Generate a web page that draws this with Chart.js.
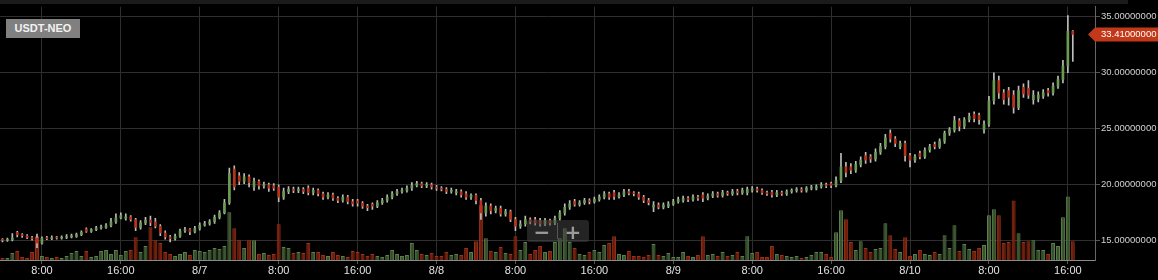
<!DOCTYPE html>
<html>
<head>
<meta charset="utf-8">
<script src="https://cdn.jsdelivr.net/npm/chart.js@4.4.1/dist/chart.umd.min.js"></script>
<style>
html, body { margin: 0; padding: 0; background: #000; overflow: hidden; }
#wrap { position: relative; width: 1158px; height: 280px; }
#chart { position: absolute; left: 0; top: 0; }
#pair { position: absolute; left: 6px; top: 19px; width: 74px; height: 19px; background: #808080;
        color: #f2f2f2; font: bold 11px "Liberation Sans", Arial, sans-serif; line-height: 19px; text-align: center; }
#zoombox { position: absolute; left: 527px; top: 220px; width: 62px; height: 22px;
           background: rgba(72, 72, 72, 0.5); border-radius: 3px; }
#zoombox span { position: absolute; top: 0; width: 30px; height: 22px; line-height: 21px; text-align: center;
                color: #9a9a9a; font: bold 20px "DejaVu Sans", sans-serif; }
#zoombox .sep { position: absolute; left: 30px; top: 3px; width: 1px; height: 16px; background: rgba(120,120,120,0.6); }
</style>
</head>
<body>
<div id="wrap">
  <canvas id="chart" width="1158" height="280"></canvas>
  <div id="pair">USDT-NEO</div>
  <div id="zoombox"><span style="left:0">−</span><div class="sep"></div><span style="left:31px">+</span></div>
</div>
<script>
// 30 minute candles, 8/6 4:00 -> 8/10 16:30
const opens = [
  15.10, 15.05, 15.10, 15.75, 15.55, 15.45, 15.30, 15.25, 14.80, 15.25,
  15.20, 15.30, 15.25, 15.30, 15.35, 15.40, 15.55, 16.05, 15.85, 16.00,
  16.15, 16.20, 16.35, 16.70, 17.05, 17.00, 17.15, 16.90, 16.20, 16.60,
  16.85, 16.70, 16.30, 15.70, 15.35, 15.20, 15.40, 15.90, 16.00, 15.80,
  16.10, 16.40, 16.55, 16.70, 17.10, 17.50, 18.40, 21.40, 20.80, 20.30,
  20.70, 19.80, 20.30, 19.90, 20.00, 19.90, 19.80, 18.90, 19.40, 19.60,
  19.50, 19.60, 19.70, 19.30, 19.50, 19.20, 18.90, 19.10, 18.80, 18.60,
  18.90, 18.50, 18.55, 18.35, 18.10, 18.25, 18.10, 18.40, 18.60, 18.90,
  19.20, 19.40, 19.50, 19.70, 19.95, 20.10, 19.90, 20.00, 19.80, 19.70,
  19.60, 19.40, 19.30, 19.40, 19.20, 18.90, 19.05, 18.60, 17.50, 18.10,
  17.70, 17.90, 17.40, 17.60, 16.90, 16.30, 16.50, 16.90, 16.90, 16.80,
  16.50, 16.80, 16.60, 17.00, 17.50, 18.00, 18.50, 18.25, 18.40, 18.60,
  18.50, 18.70, 18.90, 19.20, 19.30, 18.95, 19.10, 19.40, 19.25, 19.20,
  18.90, 18.60, 18.00, 18.20, 18.00, 18.10, 18.30, 18.50, 18.60, 18.80,
  18.70, 18.90, 19.10, 18.80, 19.00, 19.20, 19.05, 19.30, 19.20, 19.45,
  19.30, 19.30, 19.50, 19.65, 19.50, 19.30, 19.35, 19.10, 19.30, 19.20,
  19.40, 19.50, 19.60, 19.50, 19.70, 19.70, 19.85, 20.00, 20.10, 19.95,
  20.40, 21.60, 21.60, 21.30, 21.80, 22.60, 22.50, 22.30, 22.90, 23.40,
  24.60, 24.10, 23.40, 23.70, 22.60, 22.20, 22.80, 22.50, 23.10, 23.60,
  23.40, 23.90, 24.60, 24.90, 25.70, 25.20, 25.80, 26.30, 26.20, 24.90,
  25.40, 27.50, 29.30, 28.20, 28.40, 28.00, 26.90, 28.70, 28.60, 27.60,
  27.70, 27.90, 28.40, 28.20, 28.80, 29.40, 30.60, 33.70
];
const highs = [
  15.20, 15.25, 15.65, 15.85, 15.65, 15.55, 15.40, 15.60, 15.35, 15.40,
  15.45, 15.40, 15.45, 15.55, 15.60, 15.70, 15.90, 16.15, 16.10, 16.30,
  16.40, 16.55, 17.00, 17.40, 17.50, 17.40, 17.25, 17.00, 16.80, 17.10,
  17.20, 17.00, 16.45, 15.90, 15.50, 15.60, 16.05, 16.20, 16.10, 16.30,
  16.60, 16.75, 16.90, 17.30, 17.70, 18.70, 21.50, 21.70, 21.10, 21.00,
  20.90, 20.60, 20.45, 20.25, 20.15, 20.10, 20.00, 19.70, 19.85, 19.80,
  19.80, 19.75, 19.90, 19.70, 19.65, 19.35, 19.30, 19.25, 18.95, 19.10,
  19.05, 18.70, 18.70, 18.50, 18.25, 18.40, 18.60, 18.80, 19.10, 19.40,
  19.60, 19.70, 19.90, 20.20, 20.30, 20.25, 20.20, 20.15, 19.95, 19.85,
  19.75, 19.70, 19.60, 19.55, 19.40, 19.20, 19.20, 18.80, 18.40, 18.30,
  18.10, 18.10, 17.80, 17.75, 17.10, 16.80, 17.20, 17.05, 17.10, 17.00,
  17.00, 16.95, 17.20, 17.70, 18.30, 18.60, 18.70, 18.60, 18.80, 18.75,
  18.90, 19.10, 19.40, 19.35, 19.50, 19.30, 19.60, 19.60, 19.40, 19.35,
  19.05, 18.80, 18.50, 18.40, 18.40, 18.50, 18.70, 18.90, 19.00, 18.95,
  19.10, 19.05, 19.30, 19.20, 19.40, 19.35, 19.50, 19.45, 19.60, 19.60,
  19.70, 19.80, 19.85, 19.80, 19.65, 19.45, 19.50, 19.50, 19.45, 19.55,
  19.65, 19.75, 19.75, 19.85, 19.95, 20.00, 20.20, 20.15, 20.25, 20.70,
  22.80, 22.00, 21.90, 22.10, 22.50, 22.90, 22.70, 23.20, 23.70, 24.50,
  24.90, 24.30, 23.90, 23.90, 22.80, 22.70, 23.00, 23.30, 23.60, 23.80,
  24.10, 24.80, 25.10, 26.10, 25.90, 26.00, 26.40, 26.50, 26.40, 25.70,
  27.90, 30.00, 29.70, 28.50, 28.70, 28.40, 28.80, 29.00, 29.30, 28.40,
  28.30, 28.50, 28.60, 29.10, 29.70, 31.10, 35.10, 33.75
];
const lows = [
  14.90, 14.95, 15.00, 15.35, 15.30, 15.20, 15.05, 14.40, 14.70, 15.10,
  15.10, 15.15, 15.15, 15.20, 15.25, 15.30, 15.45, 15.75, 15.75, 15.90,
  16.05, 16.10, 16.25, 16.55, 16.95, 16.85, 16.75, 15.90, 16.05, 16.45,
  16.35, 16.15, 15.45, 15.15, 14.90, 15.05, 15.30, 15.75, 15.55, 15.70,
  15.95, 16.30, 16.40, 16.55, 16.95, 17.40, 18.25, 19.55, 20.00, 20.10,
  19.80, 19.50, 19.60, 19.70, 19.40, 19.50, 18.50, 18.70, 19.20, 19.30,
  19.30, 19.20, 19.10, 19.10, 19.00, 18.70, 18.75, 18.60, 18.40, 18.45,
  18.30, 18.10, 18.10, 17.90, 17.70, 17.80, 17.95, 18.25, 18.45, 18.75,
  19.05, 19.25, 19.35, 19.50, 19.80, 19.75, 19.75, 19.60, 19.50, 19.45,
  19.20, 19.25, 19.10, 18.90, 18.70, 18.70, 18.30, 16.90, 17.20, 17.40,
  17.50, 17.20, 17.20, 16.70, 15.90, 16.10, 16.30, 16.50, 16.40, 16.30,
  16.35, 16.40, 16.45, 16.85, 17.30, 17.80, 18.10, 18.10, 18.25, 18.30,
  18.35, 18.55, 18.75, 18.70, 18.70, 18.80, 18.95, 19.10, 19.00, 18.70,
  18.40, 18.20, 17.60, 17.85, 17.85, 17.95, 18.15, 18.35, 18.45, 18.50,
  18.55, 18.60, 18.50, 18.65, 18.85, 18.90, 18.90, 19.05, 19.05, 19.10,
  19.15, 19.10, 19.35, 19.35, 19.15, 19.05, 18.90, 18.95, 19.05, 19.05,
  19.25, 19.35, 19.35, 19.35, 19.55, 19.55, 19.70, 19.75, 19.75, 19.80,
  20.20, 20.70, 21.00, 21.10, 21.60, 21.90, 22.00, 22.10, 22.70, 23.20,
  23.80, 23.40, 23.20, 22.10, 21.60, 22.00, 22.30, 22.35, 22.90, 23.20,
  23.25, 23.70, 24.40, 24.70, 24.80, 25.00, 25.60, 25.60, 25.40, 24.60,
  25.20, 27.20, 27.70, 27.20, 27.10, 26.40, 26.70, 27.80, 27.70, 27.20,
  27.40, 27.70, 27.90, 28.00, 28.60, 29.10, 30.00, 31.00
];
const closes = [
  15.05, 15.10, 15.25, 15.55, 15.45, 15.30, 15.20, 14.80, 15.25, 15.20,
  15.30, 15.25, 15.30, 15.35, 15.45, 15.55, 15.75, 15.85, 16.00, 16.15,
  16.20, 16.35, 16.70, 17.05, 17.25, 17.15, 16.90, 16.20, 16.60, 16.85,
  16.65, 16.30, 15.70, 15.35, 15.20, 15.40, 15.90, 16.00, 15.80, 16.10,
  16.40, 16.55, 16.70, 17.10, 17.50, 18.40, 21.00, 19.80, 20.30, 20.70,
  20.20, 20.30, 19.90, 20.00, 19.70, 19.70, 18.90, 19.40, 19.60, 19.50,
  19.60, 19.40, 19.30, 19.50, 19.20, 18.90, 19.10, 18.80, 18.60, 18.90,
  18.50, 18.30, 18.35, 18.10, 17.95, 18.10, 18.40, 18.60, 18.90, 19.20,
  19.40, 19.50, 19.70, 19.95, 20.10, 19.90, 20.00, 19.80, 19.70, 19.60,
  19.40, 19.50, 19.40, 19.10, 18.90, 19.05, 18.60, 17.50, 18.10, 17.70,
  17.90, 17.40, 17.60, 16.90, 16.30, 16.50, 16.90, 16.70, 16.60, 16.50,
  16.80, 16.60, 17.00, 17.50, 18.00, 18.30, 18.25, 18.40, 18.60, 18.50,
  18.70, 18.90, 19.20, 18.90, 18.95, 19.10, 19.40, 19.25, 19.20, 18.90,
  18.60, 18.40, 18.20, 18.00, 18.20, 18.30, 18.50, 18.70, 18.80, 18.70,
  18.90, 18.80, 18.80, 19.00, 19.20, 19.05, 19.30, 19.20, 19.40, 19.30,
  19.50, 19.60, 19.65, 19.50, 19.30, 19.20, 19.10, 19.30, 19.20, 19.40,
  19.50, 19.60, 19.50, 19.70, 19.80, 19.85, 20.00, 19.90, 19.95, 20.40,
  21.60, 21.10, 21.30, 21.80, 22.20, 22.20, 22.30, 22.90, 23.40, 24.20,
  24.10, 23.70, 23.70, 22.60, 22.20, 22.50, 22.50, 23.10, 23.40, 23.40,
  23.90, 24.60, 24.90, 25.70, 25.20, 25.80, 26.10, 25.90, 25.80, 25.40,
  27.50, 29.30, 28.20, 27.60, 27.80, 26.90, 28.40, 28.10, 28.00, 28.00,
  28.00, 28.20, 28.20, 28.80, 29.40, 30.60, 33.70, 33.41
];
const volumes = [
   2,  2,  7,  9,  3,  2,  8, 24,  4,  3,
   2,  3,  2,  4,  7,  9,  4,  9,  3,  4,
   9, 10,  6, 10,  5,  9, 10, 23,  8, 14,
  33, 20, 17,  8,  6,  4,  6,  8,  5, 10,
   9,  8, 10, 12, 11, 14, 48, 32, 20, 12,
  20, 20,  6,  7,  5,  6, 36, 13, 12,  7,
   8,  7, 17,  8,  8,  5,  4,  8,  5,  4,
   3,  9,  8,  6,  4,  6,  4,  3,  5, 10,
   6,  4,  5, 17, 10,  6,  5,  7,  4,  4,
   8,  5,  6,  5, 12,  8, 19, 55, 22,  9,
   8, 13,  7,  6, 24, 10, 18,  6, 10, 14,
   8,  9, 18, 22, 32, 18, 12,  6,  5,  8,
  10,  8, 15, 17, 24,  6,  5,  9,  4,  4,
   3,  5, 16,  5,  4,  7,  3,  3,  8,  4,
   3,  5, 24,  5,  6,  4,  8,  4,  5,  8,
   4, 24,  7,  8,  3,  3, 14,  6,  5,  4,
   3,  4,  2,  3,  5,  8,  8,  6,  3, 28,
  50, 41, 18, 10, 19, 12,  8, 11, 12, 37,
  25, 11,  8, 23,  4,  6, 10,  6,  5,  8,
   6, 25, 12, 35,  9, 16, 11,  9, 12, 15,
  45, 51, 45, 17, 18, 60, 27, 18, 19, 20,
  10, 10,  6, 17, 14, 43, 64, 19
];

const priceTicks = [15, 20, 25, 30, 35];
const tickLabels = ['8:00', '16:00', '8/7', '8:00', '16:00', '8/8', '8:00', '16:00',
                    '8/9', '8:00', '16:00', '8/10', '8:00', '16:00'];
const firstTick = 8;   // slot of 8/6 8:00
const tickStep = 16;   // 8 hours of 30 min slots

// time slots, a few empty ones after the last candle
const categories = [];
for (let i = 0; i < 222; i++) {
    const m = 240 + i * 30;
    const day = 6 + Math.floor(m / 1440);
    const h = Math.floor(m / 60) % 24;
    categories.push('8/' + day + ' ' + h + ':' + (m % 60 === 0 ? '00' : '30'));
}

const UP = '#6b9a52', DOWN = '#b9331a';
const isUp = closes.map((c, i) => c >= opens[i]);

const bgPlugin = {
    id: 'bg',
    beforeDraw(chart) {
        const c = chart.ctx;
        c.save();
        c.fillStyle = '#000';
        c.fillRect(0, 0, chart.width, chart.height);
        c.fillStyle = '#1b1b1b';
        c.fillRect(0, 0, 1128, 4);
        c.restore();
    }
};

const lastPricePlugin = {
    id: 'lastPrice',
    afterDraw(chart) {
        const c = chart.ctx;
        const last = closes[closes.length - 1];
        const y = Math.round(chart.scales.price.getPixelForValue(last)) + 0.5;
        const x0 = chart.chartArea.right - 7;
        c.save();
        c.fillStyle = '#c2391a';
        c.beginPath();
        c.moveTo(x0, y);
        c.lineTo(x0 + 7, y - 7);
        c.lineTo(chart.width, y - 7);
        c.lineTo(chart.width, y + 7);
        c.lineTo(x0 + 7, y + 7);
        c.closePath();
        c.fill();
        c.fillStyle = '#fff';
        c.font = '9.5px "Liberation Sans", Arial, sans-serif';
        c.textBaseline = 'middle';
        c.fillText(last.toFixed(8), chart.chartArea.right + 6, y);
        c.restore();
    }
};

Chart.defaults.font.family = '"Liberation Sans", Arial, sans-serif';

new Chart(document.getElementById('chart'), {
    type: 'bar',
    data: {
        labels: categories,
        datasets: [
            {
                label: 'Body',
                data: opens.map((o, i) => [o, closes[i]]),
                backgroundColor: isUp.map(u => u ? UP : DOWN),
                barThickness: 2,
                minBarLength: 1,
                grouped: false,
                yAxisID: 'price',
                order: 1
            },
            {
                label: 'Wick',
                data: lows.map((l, i) => [l, highs[i]]),
                backgroundColor: '#bdbdbd',
                barThickness: 1,
                grouped: false,
                yAxisID: 'price',
                order: 2
            },
            {
                label: 'Volume',
                data: volumes,
                backgroundColor: isUp.map(u => u ? 'rgba(62, 92, 50, 0.95)' : 'rgba(122, 34, 14, 0.95)'),
                borderColor: isUp.map(u => u ? '#5d7f4c' : '#9b3118'),
                borderWidth: 1,
                barPercentage: 0.8,
                categoryPercentage: 1,
                grouped: false,
                yAxisID: 'vol',
                order: 3
            }
        ]
    },
    options: {
        responsive: false,
        animation: false,
        events: [],
        layout: { padding: { top: 5, left: 0, right: 0, bottom: 0 } },
        plugins: { legend: { display: false }, tooltip: { enabled: false } },
        scales: {
            x: {
                offset: true,
                grid: { offset: false, color: '#2e2e2e', tickColor: '#555', tickLength: 4 },
                border: { color: '#8a8a8a' },
                ticks: {
                    autoSkip: false, maxRotation: 0, minRotation: 0, padding: 0,
                    color: '#e2e2e2', font: { size: 11 },
                    callback: (v, i) => {
                        const k = i - firstTick;
                        return (k >= 0 && k % tickStep === 0) ? tickLabels[k / tickStep] : null;
                    }
                },
                afterFit: s => { s.height = 20; }
            },
            price: {
                position: 'right',
                min: 13.29,
                max: 35.89,
                afterBuildTicks: s => { s.ticks = priceTicks.map(v => ({ value: v })); },
                grid: { color: '#2e2e2e', tickColor: '#555', tickLength: 5 },
                border: { color: '#666' },
                ticks: { color: '#d2d2d2', font: { size: 9.5 }, padding: 1, callback: v => v.toFixed(8) },
                afterFit: s => { s.width = 63; }
            },
            vol: {
                display: false,
                min: 0,
                max: 255
            }
        }
    },
    plugins: [bgPlugin, lastPricePlugin]
});
</script>
</body>
</html>
